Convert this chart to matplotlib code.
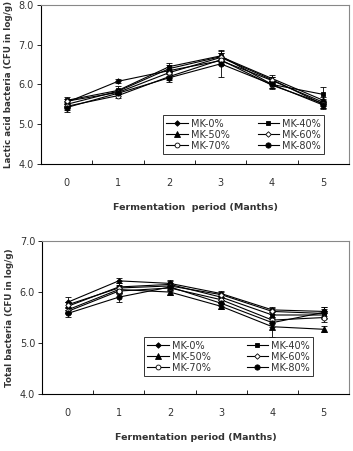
import matplotlib
matplotlib.use("Agg")
import matplotlib.pyplot as plt
import numpy as np

months = [0, 1, 2, 3, 4, 5]
series = ["MK-0%", "MK-40%", "MK-50%", "MK-60%", "MK-70%", "MK-80%"]

lab_mk0 = [5.55, 6.08, 6.35, 6.60, 6.10, 5.55]
lab_mk40 = [5.60, 5.85, 6.45, 6.72, 6.00, 5.75]
lab_mk50 = [5.50, 5.83, 6.40, 6.70, 6.15, 5.60]
lab_mk60 = [5.58, 5.80, 6.30, 6.68, 6.12, 5.50]
lab_mk70 = [5.45, 5.72, 6.20, 6.62, 5.98, 5.52]
lab_mk80 = [5.42, 5.78, 6.17, 6.52, 6.00, 5.48]
lab_err = [
    [0.08, 0.05, 0.08, 0.10, 0.08, 0.08],
    [0.08, 0.10, 0.08, 0.15, 0.10, 0.18],
    [0.08, 0.06, 0.08, 0.10, 0.10, 0.08],
    [0.06, 0.05, 0.08, 0.10, 0.08, 0.08],
    [0.08, 0.06, 0.08, 0.10, 0.10, 0.10],
    [0.10, 0.08, 0.10, 0.32, 0.08, 0.10],
]

tb_mk0 = [5.80, 6.22, 6.17, 5.97, 5.65, 5.62]
tb_mk40 = [5.72, 6.10, 6.15, 5.90, 5.55, 5.55]
tb_mk50 = [5.65, 6.05, 6.00, 5.72, 5.32, 5.27]
tb_mk60 = [5.75, 6.08, 6.12, 5.95, 5.62, 5.58]
tb_mk70 = [5.62, 6.02, 6.08, 5.85, 5.45, 5.50]
tb_mk80 = [5.58, 5.90, 6.10, 5.78, 5.40, 5.60]
tb_err = [
    [0.10, 0.05, 0.06, 0.06, 0.05, 0.08],
    [0.08, 0.08, 0.06, 0.06, 0.06, 0.08],
    [0.06, 0.06, 0.05, 0.06, 0.20, 0.06],
    [0.06, 0.06, 0.06, 0.06, 0.06, 0.08],
    [0.06, 0.06, 0.06, 0.06, 0.06, 0.08],
    [0.06, 0.10, 0.06, 0.06, 0.08, 0.10],
]

lab_vals = [lab_mk0, lab_mk40, lab_mk50, lab_mk60, lab_mk70, lab_mk80]
tb_vals = [tb_mk0, tb_mk40, tb_mk50, tb_mk60, tb_mk70, tb_mk80]

styles = [
    dict(marker="D", ms=2.8, mfc="black"),
    dict(marker="s", ms=3.5, mfc="black"),
    dict(marker="^", ms=3.8, mfc="black"),
    dict(marker="D", ms=2.8, mfc="white"),
    dict(marker="o", ms=3.5, mfc="white"),
    dict(marker="o", ms=3.8, mfc="black"),
]

plt.rcParams["font.family"] = "DejaVu Sans"
fig = plt.figure(figsize=(3.53, 4.51), dpi=100)
ax1 = fig.add_axes([0.116, 0.6364, 0.873, 0.3525])
ax2 = fig.add_axes([0.119, 0.1264, 0.870, 0.339])

txtc = "#333333"

def draw(ax, vals, errs, ylim, yticks, ylabel, xlabel, legbox):
    handles = []
    for name, v, e, st in zip(series, vals, errs, styles):
        h = ax.errorbar(months, v, yerr=e, color="black", lw=0.8, mec="black",
                        mew=0.6, capsize=2, elinewidth=0.6, capthick=0.6,
                        label=name, **st)
        handles.append(h[0])
    ax.set_xlim(-0.5, 5.5)
    ax.set_ylim(*ylim)
    ax.set_yticks(yticks)
    ax.set_yticklabels([f"{t:.1f}" for t in yticks], fontsize=7, color=txtc)
    ax.set_xticks(months)
    ax.set_xticklabels([str(m) for m in months], fontsize=7, color=txtc)
    ax.set_xticks(np.arange(0.5, 5.5, 1.0), minor=True)
    ax.tick_params(axis="x", which="major", length=0, pad=10)
    ax.tick_params(axis="x", which="minor", length=3, direction="in", width=0.6)
    ax.tick_params(axis="y", length=3, width=0.6, direction="out", pad=2)
    for s in ["top", "right"]:
        ax.spines[s].set_color("#888888")
        ax.spines[s].set_linewidth(0.8)
    for s in ["left", "bottom"]:
        ax.spines[s].set_color("black")
        ax.spines[s].set_linewidth(0.8)
    ax.set_ylabel(ylabel, fontsize=6.3, fontweight="bold", color=txtc, labelpad=4)
    ax.set_xlabel(xlabel, fontsize=6.8, fontweight="bold", color=txtc, labelpad=11)
    order = [0, 2, 4, 1, 3, 5]
    leg = ax.legend([handles[i] for i in order], [series[i] for i in order],
                    ncol=2, loc="lower left", bbox_to_anchor=legbox, mode="expand",
                    fontsize=7, frameon=True, fancybox=False, edgecolor="black",
                    borderpad=0.35, labelspacing=0.1, handlelength=2.2,
                    handletextpad=0.3, columnspacing=1.0, borderaxespad=0)
    leg.get_frame().set_linewidth(0.7)
    for t in leg.get_texts():
        t.set_color(txtc)

draw(ax1, lab_vals, lab_err, (4.0, 8.0), [4.0, 5.0, 6.0, 7.0, 8.0],
     "Lactic acid bacteria (CFU in log/g)", "Fermentation  period (Manths)",
     (0.396, 0.063, 0.523, 0.258))
draw(ax2, tb_vals, tb_err, (4.0, 7.0), [4.0, 5.0, 6.0, 7.0],
     "Total bacteria (CFU in log/g)", "Fermentation period (Manths)",
     (0.332, 0.118, 0.551, 0.281))

fig.savefig("out.png", dpi=100)
